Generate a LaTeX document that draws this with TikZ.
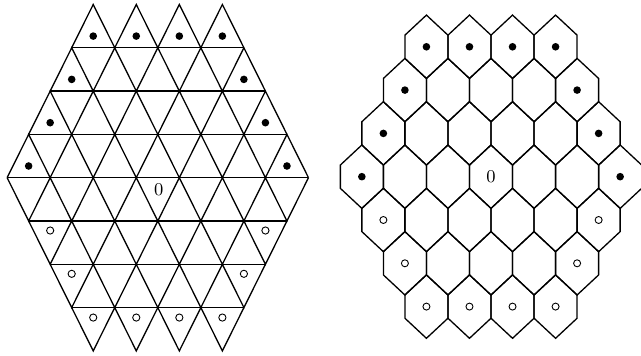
\documentclass[tikz,border=0pt]{standalone}
\begin{document}
\begin{tikzpicture}[x=0.5pt,y=-0.5pt,
  edge/.style={line width=0.65pt, line join=miter},
  fdot/.style={fill=black},
  odot/.style={draw=black, line width=0.45pt},
  lbl/.style={inner sep=0pt, font=\fontsize{9}{10}\selectfont}]
\useasboundingbox (0,0) rectangle (641,356);
% ---------- left: triangular board ----------
\begin{scope}[shift={(78.9pt,-88.85pt)}, x=21.525pt, y=21.65pt]
  \foreach \k in {-3,...,3} {
    \pgfmathsetmacro\w{3.5-0.5*abs(\k)}
    \draw[edge] (-\w,\k) -- (\w,\k);
  }
  \foreach \k in {-4,...,3} {
    \pgfmathsetmacro\W{max(3.5-0.5*abs(\k),3.5-0.5*abs(\k+1))}
    \pgfmathtruncatemacro\n{4*\W}
    \pgfmathtruncatemacro\yw{\k+(\k<0)}
    \pgfmathtruncatemacro\yn{2*\k+1-\yw}
    \draw[edge] (-\W,\yw) foreach \i in {1,...,\n} { -- ({-\W+0.5*\i},{\yw+(\yn-\yw)*mod(\i,2)}) };
  }
  % filled dots
  \foreach \x in {-1.5,-0.5,0.5,1.5} \fill[fdot] (\x,3.27) circle[radius=1.9pt];
  \foreach \x/\y in {-2/2.27,2/2.27,-2.5/1.27,2.5/1.27,-3/0.27,3/0.27}
    \fill[fdot] (\x,\y) circle[radius=1.9pt];
  % open circles
  \foreach \x/\y in {-2.5/-1.22,2.5/-1.22,-2/-2.22,2/-2.22}
    \draw[odot] (\x,\y) circle[radius=1.8pt];
  \foreach \x in {-1.5,-0.5,0.5,1.5} \draw[odot] (\x,-3.23) circle[radius=1.8pt];
  \node[lbl] (lzero) at (0.02,-0.27) {0};
\end{scope}
% ---------- right: hexagonal board ----------
\begin{scope}[shift={(491,176.7)}]
  \foreach \r in {-3,...,3} {
    \pgfmathtruncatemacro\m{6-abs(\r)}
    \foreach \j in {0,...,\m} {
      \pgfmathsetmacro\cx{(\j-\m/2)*43.05}
      \pgfmathsetmacro\cy{\r*43.3}
      \draw[edge] (\cx,\cy) ++(0,-31.7) -- ++(21.5,20.05) -- ++(0,23.3)
        -- ++(-21.5,20.05) -- ++(-21.5,-20.05) -- ++(0,-23.3) -- cycle;
    }
  }
  % filled dots
  \foreach \j in {0,...,3} \fill[fdot] ({(\j-1.5)*43.05},{-3*43.3}) circle[radius=1.9pt];
  \foreach \r in {-2,-1,0} {
    \pgfmathsetmacro\h{(6-abs(\r))/2*43.05}
    \fill[fdot] (-\h,{\r*43.3}) circle[radius=1.9pt];
    \fill[fdot] (\h,{\r*43.3}) circle[radius=1.9pt];
  }
  % open circles
  \foreach \r in {1,2} {
    \pgfmathsetmacro\h{(6-abs(\r))/2*43.05}
    \draw[odot] (-\h,{\r*43.3}) circle[radius=1.75pt];
    \draw[odot] (\h,{\r*43.3}) circle[radius=1.75pt];
  }
  \foreach \j in {0,...,3} \draw[odot] ({(\j-1.5)*43.05},{3*43.3}) circle[radius=1.75pt];
  \node[lbl] (rzero) at (0,0) {0};
\end{scope}
\end{tikzpicture}
\end{document}
